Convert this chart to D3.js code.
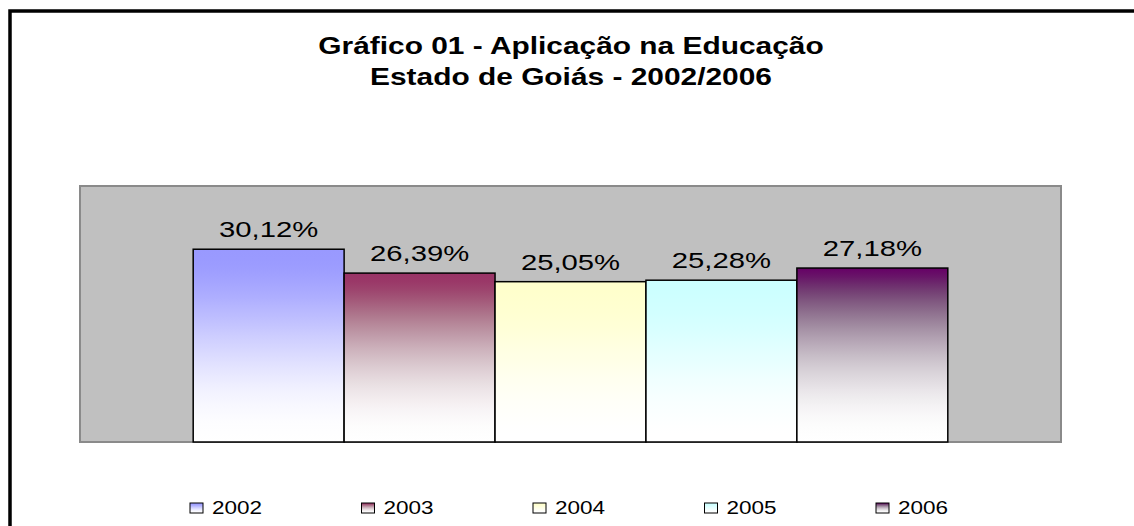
<!DOCTYPE html>
<html>
<head>
<meta charset="utf-8">
<script src="https://cdn.jsdelivr.net/npm/d3@7"></script>
<style>
  body { margin: 0; background: #fff; }
  svg { display: block; font-family: "Liberation Sans", Arial, sans-serif; }
</style>
</head>
<body>
<script>
const width = 1134;
const height = 526;

const titleLines = ['Gráfico 01 - Aplicação na Educação', 'Estado de Goiás - 2002/2006'];
const years = ['2002', '2003', '2004', '2005', '2006'];
const values = [30.12, 26.39, 25.05, 25.28, 27.18];
const colors = ['#9999FF', '#993366', '#FFFFCC', '#CCFFFF', '#660066'];

const plot = { left: 80, right: 1061, top: 186, bottom: 442 };
const stretch = 1.3; // the original picture is stretched sideways

const fmt = v => d3.format('.2f')(v).replace('.', ',') + '%';

const svg = d3.select('body')
  .append('svg')
  .attr('width', width)
  .attr('height', height);

// gradients fade to white in linear light, like the old office charts
const toLin = c => { c /= 255; return c <= 0.04045 ? c / 12.92 : Math.pow((c + 0.055) / 1.055, 2.4); };
const toSrgb = l => 255 * (l <= 0.0031308 ? l * 12.92 : 1.055 * Math.pow(l, 1 / 2.4) - 0.055);
function fadeColor(hex, o) {
  const c = d3.rgb(hex);
  const t = 3 * o * o - 2 * o * o * o;
  const f = v => Math.round(toSrgb(toLin(v) + t * (1 - toLin(v))));
  return d3.rgb(f(c.r), f(c.g), f(c.b)).formatHex();
}

const defs = svg.append('defs');
years.forEach((y, i) => {
  const g = defs.append('linearGradient')
    .attr('id', 'grad' + y)
    .attr('x1', 0).attr('y1', 0)
    .attr('x2', 0).attr('y2', 1);
  d3.range(0, 1.0001, 0.05).forEach(o => {
    g.append('stop')
      .attr('offset', o)
      .attr('stop-color', fadeColor(colors[i], o));
  });
});

// outer frame (only left and top edges show)
svg.append('path')
  .attr('d', `M10,${height} V11 H${width}`)
  .attr('fill', 'none')
  .attr('stroke', '#000')
  .attr('stroke-width', 3.5);

// wide text helper
function wideText(sel, x, y, txt, size, weight, sx) {
  sel.append('text')
    .attr('transform', `translate(${x},${y}) scale(${sx},1)`)
    .attr('text-anchor', 'middle')
    .attr('font-size', size)
    .attr('font-weight', weight)
    .attr('fill', '#000')
    .text(txt);
}

wideText(svg, 571, 54, titleLines[0], 23, 'bold', stretch);
wideText(svg, 571, 85, titleLines[1], 23, 'bold', stretch);

// plot area
svg.append('rect')
  .attr('x', plot.left)
  .attr('y', plot.top)
  .attr('width', plot.right - plot.left)
  .attr('height', plot.bottom - plot.top)
  .attr('fill', '#C0C0C0')
  .attr('stroke', '#8a8a8a')
  .attr('stroke-width', 2);

const x = d3.scaleBand()
  .domain(years)
  .range([plot.left, plot.right])
  .paddingInner(0)
  .paddingOuter(0.75);

const y = d3.scaleLinear()
  .domain([0, 40])
  .range([plot.bottom, plot.top]);

svg.selectAll('rect.bar')
  .data(years)
  .enter()
  .append('rect')
  .attr('class', 'bar')
  .attr('x', d => x(d))
  .attr('y', (d, i) => y(values[i]))
  .attr('width', x.bandwidth())
  .attr('height', (d, i) => y(0) - y(values[i]))
  .attr('fill', d => `url(#grad${d})`)
  .attr('stroke', '#000')
  .attr('stroke-width', 1.5);

const labels = svg.append('g');
years.forEach((d, i) => {
  wideText(labels, x(d) + x.bandwidth() / 2, y(values[i]) - 12, fmt(values[i]), 22, 'normal', 1.33);
});

// legend
const legend = svg.append('g');
const legendX = d3.scalePoint()
  .domain(years)
  .range([190, 876]);

years.forEach(d => {
  const lx = legendX(d);
  legend.append('rect')
    .attr('x', lx)
    .attr('y', 503)
    .attr('width', 13)
    .attr('height', 10)
    .attr('fill', `url(#grad${d})`)
    .attr('stroke', '#000')
    .attr('stroke-width', 1);
  legend.append('text')
    .attr('transform', `translate(${lx + 22},514) scale(1.25,1)`)
    .attr('font-size', 18)
    .attr('fill', '#000')
    .text(d);
});
</script>
</body>
</html>
